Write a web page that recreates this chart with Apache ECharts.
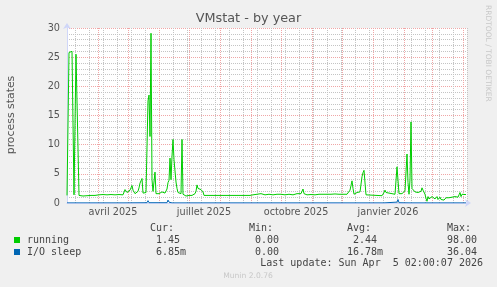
<!DOCTYPE html>
<html><head><meta charset="utf-8">
<script src="https://cdn.jsdelivr.net/npm/echarts@6/dist/echarts.min.js"></script>
<style>html,body{margin:0;padding:0;background:#f0f0f0}#c{width:497px;height:287px}</style>
</head><body><div id="c"></div>
<script>
// ---- data (day offset from window start, value) ----
const windowStart = [2025, 2, 1];   // 1 March 2025 (UTC), 400-day window
const windowDays = 400;
const running = [
[0,1.3],[2,25.8],[3,26.0],[5,26.0],[6,25.9],[7,1.4],[8,1.5],[9,25.5],[11,25.5],[12,1.3],
[14,1.25],[16,1.2],[18,1.3],[20,1.25],[22,1.35],[24,1.3],[26,1.4],[28,1.3],[30,1.35],[32,1.4],[34,1.3],[36,1.45],[38,1.35],[40,1.4],[42,1.3],[44,1.45],[46,1.35],[48,1.4],[50,1.3],[52,1.45],[54,1.35],[56,1.4],[57,1.5],
[58,2.3],[59,2.6],[60,1.8],[61,1.6],[62,1.8],[63,2.2],[64,2.6],[65,3.0],[66,2.2],[67,1.9],[68,1.6],[69,1.7],[70,1.6],[71,2.0],[72,2.6],[73,3.4],[74,3.8],[75,4.2],[76,1.7],[77,1.6],[78,2.0],[79,1.8],[80,2.1],
[81,17.5],[82,18.5],[83,11.4],[84,29.1],[85,4.0],[86,2.0],[87,1.8],[88,5.3],[89,1.6],[90,1.5],
[91,1.7],[92,1.6],[93,1.8],[94,1.5],[95,1.9],[96,2.2],[97,1.6],[98,1.7],[99,1.8],
[100,2.4],[101,3.5],[102,3.9],[103,7.7],[104,4.0],[105,8.0],[106,10.9],[107,7.4],[108,5.5],[109,3.6],[110,2.5],[111,1.8],[112,1.6],[113,1.5],[114,1.6],[115,10.9],[116,1.5],[117,1.3],
[118,1.3],[119,1.2],[120,1.3],[121,1.2],[122,1.3],[123,1.2],[124,1.4],[125,1.3],[126,1.2],[127,1.4],[128,1.6],[129,2.0],[130,3.1],[131,2.5],[132,2.6],[133,2.6],[134,2.3],[135,2.1],[136,1.9],[137,1.3],
[138,1.25],[183,1.3],
[184,1.5],[186,1.4],[188,1.6],[190,1.5],[192,1.4],[194,1.6],[196,1.5],[198,1.4],[200,1.6],[202,1.5],[204,1.5],[206,1.4],[208,1.6],[210,1.5],[212,1.4],[214,1.5],[216,1.6],[218,1.4],[220,1.5],[222,1.5],[224,1.6],[226,1.4],[228,1.5],[230,1.6],[232,1.5],[234,1.6],[235,1.8],[236,2.4],[237,1.6],
[238,1.5],[240,1.4],[242,1.5],[244,1.45],[246,1.5],[248,1.4],[249,1.6],[250,1.45],[252,1.5],[254,1.4],[256,1.5],[258,1.45],[260,1.5],[262,1.4],[264,1.5],[266,1.45],[268,1.55],[270,1.4],[272,1.5],[274,1.45],[276,1.5],[278,1.4],[280,1.5],[282,1.6],
[283,2.2],[284,3.0],[285,3.8],[286,2.5],[287,1.5],[288,1.6],[289,1.7],[290,1.8],[291,2.0],[292,2.1],[293,1.9],[294,2.2],[295,4.5],[296,5.2],[297,5.6],[298,5.65],[299,1.4],[300,1.25],[315,1.25],
[316,1.4],[317,1.8],[318,2.2],[319,1.8],[320,1.5],[328,1.5],[329,1.6],[330,6.2],[331,6.3],[332,1.6],[333,1.7],[334,1.9],[335,1.6],[336,1.6],[337,1.8],[338,2.1],[339,2.0],[340,8.4],[341,3.5],[342,1.5],[343,4.0],[344,13.9],[345,2.5],[346,2.2],
[347,2.2],[348,1.9],[349,1.9],[350,2.0],[351,1.8],[352,1.9],[353,1.7],[354,2.0],[355,2.6],[356,2.2],[357,2.4],[358,1.5],[359,0.8],[360,0.3],[361,1.1],[362,0.7],[363,1.0],[364,0.6],[365,1.1],[366,0.8],[367,1.2],[368,0.7],[369,0.9],[370,1.1],[371,0.6],[372,0.9],[373,1.0],[374,0.6],[375,0.8],[376,0.9],[377,0.5],[378,0.7],[379,0.9],[380,0.6],[381,0.8],[382,0.9],[383,1.0],[384,0.7],[385,1.0],[386,1.2],[387,0.8],[388,1.1],[389,0.9],[390,1.2],[391,1.0],[392,1.4],[393,1.8],[394,1.1],[395,1.5],[396,1.3],[397,1.4],[398,1.45],[399,1.45]
];
const ioSleep = [
[0,0.02],[57,0.02],[58,0.2],[59,0.02],[80,0.05],[81,0.4],[82,0.05],[100,0.05],[101,0.5],[102,0.15],[103,0.02],[105,0.02],[106,0.2],[107,0.02],
[129,0.02],[130,0.2],[131,0.02],[317,0.02],[318,0.1],[319,0.02],[330,0.15],[331,0.6],[332,0.05],[343,0.02],[344,0.2],[345,0.02],[399,0.02]
];
const xTickDates = ['2025-04-16','2025-07-16','2025-10-16','2026-01-16'];
const xTickLabels = ['avril 2025','juillet 2025','octobre 2025','janvier 2026'];
const yMin = 0, yMax = 30, yStep = 5;
const seriesNames = ['running','I/O sleep'];
const seriesColors = ['#00cc00','#0066b3'];
const statHeaders = ['Cur:','Min:','Avg:','Max:'];
const runningStats = ['1.45','0.00','2.44','98.00'];
const ioStats = ['6.85m','0.00','16.78m','36.04'];
const titleText = 'VMstat - by year';
const yAxisName = 'process states';
const lastUpdate = 'Last update: Sun Apr  5 02:00:07 2026';
const footerText = 'Munin 2.0.76';
const sideText = 'RRDTOOL / TOBI OETIKER';

// ---- build ----
const DAY = 86400000;
const T0 = Date.UTC(windowStart[0], windowStart[1], windowStart[2]);
const T1 = T0 + windowDays * DAY;
const toTs = d => T0 + d * DAY;
const runData = running.map(p => [toTs(p[0]), p[1]]);
const ioData = ioSleep.map(p => [toTs(p[0]), p[1]]);
const labelTs = xTickDates.map(s => Date.parse(s + 'T00:00:00Z'));
// month starts (major grid) and fortnightly Sundays (minor grid), local midnight Paris ~ UTC-1h
const monthTs = [];
for (let y = 2025, m = 3; ; m++) { if (m > 11) { m = 0; y++; } const t = Date.UTC(y, m, 1) - 3600000; if (t >= T1) break; monthTs.push(t); }
const fortnightTs = [];
for (let t = Date.UTC(2025, 2, 9) - 3600000; t < T1; t += 14 * DAY) fortnightTs.push(t);

const FONT = 'DejaVu Sans';
const MONO = 'DejaVu Sans Mono';
const GRID = { left: 67, top: 28, width: 400, height: 175 };
const txt = (x, y, text, o) => Object.assign({
  type: 'text', x: x, y: y, silent: true,
  style: Object.assign({ text: text, fill: '#444', fontSize: 10, fontFamily: MONO,
    align: 'left', textAlign: 'left', verticalAlign: 'middle', textVerticalAlign: 'middle' }, o && o.style)
}, o && o.el);

const graphics = [];
graphics.push({ type: 'rect', silent: true, z: -100, shape: { x: GRID.left, y: GRID.top, width: GRID.width, height: GRID.height }, style: { fill: '#ffffff' } });
graphics.push(txt(248.5, 19, titleText, { style: { fill: '#555', fontSize: 12.8, fontFamily: FONT, align: 'center', textAlign: 'center' } }));
graphics.push(txt(11, 115, yAxisName, { style: { fill: '#555', fontSize: 10.9, fontFamily: FONT, align: 'center', textAlign: 'center' }, el: { rotation: Math.PI / 2 } }));
graphics.push(txt(487.5, 5, sideText, { style: { fill: '#c8c8c8', fontSize: 7.5, fontFamily: FONT }, el: { rotation: -Math.PI / 2 } }));
// legend table
const colX = [144, 243, 341, 441];
const rowY = [240, 252];
statHeaders.forEach((h, i) => graphics.push(txt(colX[i] + 6, 228, h)));
const fmt = s => { const m = s.match(/^([\d.]+)(\D*)$/); return m[1].padStart(6, ' ') + m[2]; };
[runningStats, ioStats].forEach((row, r) => {
  graphics.push({ type: 'rect', silent: true, shape: { x: 14, y: rowY[r] - 3, width: 6, height: 6 }, style: { fill: seriesColors[r] } });
  graphics.push(txt(27, rowY[r], seriesNames[r]));
  row.forEach((v, i) => graphics.push(txt(colX[i], rowY[r], fmt(v))));
});
graphics.push(txt(483, 263.5, lastUpdate, { style: { align: 'right', textAlign: 'right' } }));
graphics.push(txt(248, 276.5, footerText, { style: { fill: '#c8c8c8', fontSize: 7.6, fontFamily: FONT, align: 'center', textAlign: 'center' } }));

const GRAY = '#c4c4c4';
const RED = '#f0a6a6';
const gridAxis = (vals, color, pos) => ({
  type: 'value', min: T0, max: T1, position: pos, axisLine: { show: false }, axisLabel: { show: false },
  axisTick: { show: false, customValues: vals },
  splitLine: { show: true, lineStyle: { color: color, width: 1, type: [1, 1] } }
});

const chart = echarts.init(document.getElementById('c'), null, { renderer: 'canvas' });
chart.setOption({
  animation: false,
  backgroundColor: '#f0f0f0',
  grid: Object.assign({ show: false, containLabel: false }, GRID),
  xAxis: [
    {
      type: 'value', min: T0, max: T1, position: 'bottom',
      axisLine: { show: true, onZero: false, lineStyle: { color: '#cfd6f8', width: 1 }, symbol: ['none', 'arrow'], symbolSize: [6, 6], symbolOffset: [0, 4] },
      axisTick: { show: false },
      splitLine: { show: false },
      axisLabel: {
        customValues: labelTs, margin: 4, color: '#555', fontSize: 9.7, fontFamily: FONT, hideOverlap: false,
        formatter: v => { let b = 0; labelTs.forEach((t, i) => { if (Math.abs(t - v) < Math.abs(labelTs[b] - v)) b = i; }); return xTickLabels[b]; }
      }
    },
    gridAxis(fortnightTs, GRAY, 'top'),
    gridAxis(monthTs, RED, 'top')
  ],
  yAxis: {
    type: 'value', min: yMin, max: yMax, interval: yStep,
    axisLine: { show: true, lineStyle: { color: '#cfd6f8', width: 1 }, symbol: ['none', 'arrow'], symbolSize: [6, 6], symbolOffset: [0, 5] },
    axisTick: { show: false },
    axisLabel: { color: '#555', fontSize: 9.7, fontFamily: FONT, margin: 7 },
    splitLine: { show: true, lineStyle: { color: RED, width: 1, type: [1, 1] } },
    minorTick: { show: false, splitNumber: 5 },
    minorSplitLine: { show: true, lineStyle: { color: GRAY, width: 1, type: [1, 1] } }
  },
  series: [
    { name: seriesNames[0], type: 'line', xAxisIndex: 0, data: runData, showSymbol: false, symbol: 'none',
      lineStyle: { color: seriesColors[0], width: 1 }, z: 4, silent: true },
    { name: seriesNames[1], type: 'line', xAxisIndex: 0, data: ioData, showSymbol: false, symbol: 'none',
      lineStyle: { color: seriesColors[1], width: 1 }, z: 3, silent: true }
  ],
  graphic: { elements: graphics }
});
</script></body></html>
